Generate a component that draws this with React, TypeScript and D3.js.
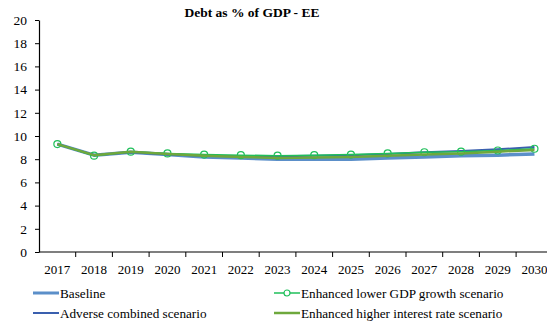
import React, { useEffect, useRef } from 'react';
import * as d3 from 'd3';

const years = ['2017', '2018', '2019', '2020', '2021', '2022', '2023', '2024', '2025', '2026', '2027', '2028', '2029', '2030'];
const baseline = [9.3, 8.35, 8.6, 8.4, 8.2, 8.1, 8.0, 8.0, 8.0, 8.1, 8.2, 8.3, 8.35, 8.45];
const adverse = [9.3, 8.35, 8.6, 8.4, 8.3, 8.25, 8.25, 8.3, 8.35, 8.45, 8.6, 8.7, 8.85, 9.05];
const lowerGdp = [9.3, 8.3, 8.65, 8.5, 8.4, 8.35, 8.3, 8.35, 8.4, 8.5, 8.6, 8.65, 8.75, 8.9];
const higherRate = [9.3, 8.35, 8.65, 8.45, 8.3, 8.2, 8.1, 8.15, 8.2, 8.3, 8.4, 8.5, 8.65, 8.8];
const yTicks = [0, 2, 4, 6, 8, 10, 12, 14, 16, 18, 20];

const series = [
    { name: 'Baseline', values: baseline, color: '#5b8fc9', width: 3.5, marker: false },
    { name: 'Adverse combined scenario', values: adverse, color: '#3a5fae', width: 2, marker: false },
    { name: 'Enhanced lower GDP growth scenario', values: lowerGdp, color: '#1fbf5a', width: 1.5, marker: true },
    { name: 'Enhanced higher interest rate scenario', values: higherRate, color: '#6ea83c', width: 2.5, marker: false },
];

const FONT = "'Liberation Serif', 'DejaVu Serif', serif";

export default function App() {
    const svgRef = useRef(null);

    useEffect(() => {
        const width = 547;
        const height = 321;

        const svg = d3.select(svgRef.current);
        svg.html('');
        svg.attr('width', width).attr('height', height).style('font-family', FONT);

        const x = d3.scaleBand().domain(years).range([39, 39 + 36.7 * years.length]);
        const y = d3.scaleLinear().domain([0, 20]).range([252, 20]);

        // title
        svg.append('text')
            .attr('x', 252).attr('y', 17)
            .attr('text-anchor', 'middle')
            .style('font-family', FONT)
            .attr('font-size', 13.5).attr('font-weight', 'bold')
            .text('Debt as % of GDP - EE');

        // y axis
        const yAxis = svg.append('g').attr('transform', 'translate(39,0)')
            .call(d3.axisLeft(y).tickValues(yTicks).tickSize(4).tickSizeOuter(0).tickPadding(8));
        yAxis.attr('font-family', null).attr('font-size', 13.5);
        yAxis.select('.domain').attr('stroke', '#000').attr('stroke-width', 1.2);
        yAxis.selectAll('text').attr('fill', '#000').style('font-family', FONT);

        // x axis
        const xAxis = svg.append('g').attr('transform', 'translate(0,252)');
        xAxis.append('line').attr('x1', 39).attr('x2', width).attr('stroke', '#000').attr('stroke-width', 1.2);
        xAxis.selectAll('line.tick')
            .data(years.slice(1))
            .join('line')
            .attr('class', 'tick')
            .attr('x1', d => x(d)).attr('x2', d => x(d))
            .attr('y1', 0).attr('y2', 5)
            .attr('stroke', '#000');
        xAxis.selectAll('text')
            .data(years)
            .join('text')
            .attr('x', d => x(d) + x.bandwidth() / 2)
            .attr('y', 22)
            .attr('text-anchor', 'middle')
            .style('font-family', FONT)
            .attr('font-size', 13)
            .text(d => d);

        const line = d3.line().x((d, i) => x(years[i]) + x.bandwidth() / 2).y(d => y(d));

        series.forEach(s => {
            svg.append('path')
                .attr('d', line(s.values))
                .attr('fill', 'none')
                .attr('stroke', s.color)
                .attr('stroke-width', s.width)
                .attr('stroke-linejoin', 'round');
            if (s.marker) {
                svg.selectAll(null)
                    .data(s.values)
                    .join('circle')
                    .attr('cx', (d, i) => x(years[i]) + x.bandwidth() / 2)
                    .attr('cy', d => y(d))
                    .attr('r', 3.5)
                    .attr('fill', 'none')
                    .attr('stroke', s.color)
                    .attr('stroke-width', 1.2);
            }
        });

        // legend
        const legendPos = [
            { x: 33, y: 293 },
            { x: 274, y: 293 },
            { x: 33, y: 313 },
            { x: 274, y: 313 },
        ];
        const legendOrder = [series[0], series[2], series[1], series[3]];
        legendOrder.forEach((s, i) => {
            const p = legendPos[i];
            const g = svg.append('g').attr('transform', `translate(${p.x},${p.y})`);
            g.append('line').attr('x1', 0).attr('x2', 26).attr('y1', 0).attr('y2', 0)
                .attr('stroke', s.color).attr('stroke-width', Math.min(s.width, 3));
            if (s.marker) {
                g.append('circle').attr('cx', 13).attr('cy', 0).attr('r', 3)
                    .attr('fill', '#fff').attr('stroke', s.color).attr('stroke-width', 1.2);
            }
            g.append('text').attr('x', 27).attr('y', 4.5)
                .style('font-family', FONT)
                .attr('font-size', 13.2)
                .text(s.name);
        });
    }, []);

    return <svg ref={svgRef} style={{ position: 'absolute', left: 0, top: 0 }}></svg>;
}
